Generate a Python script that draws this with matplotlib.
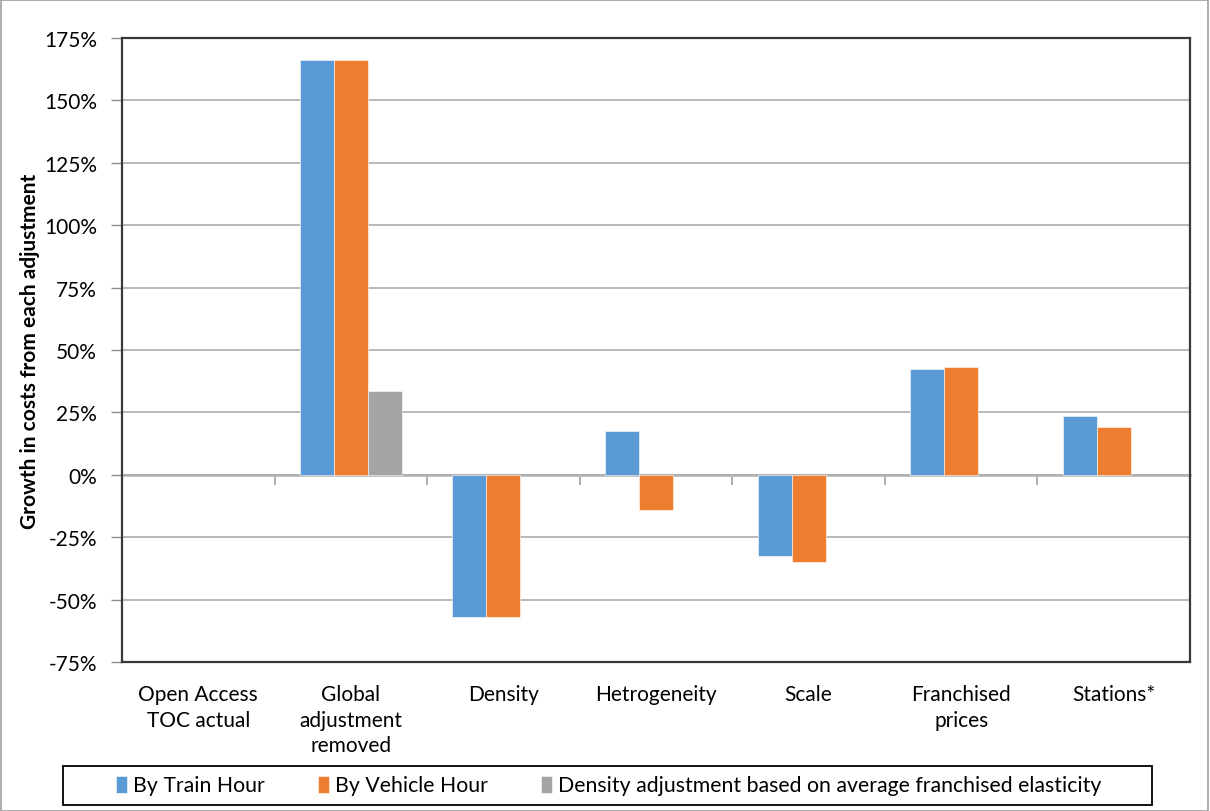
import numpy as np
import matplotlib
matplotlib.use("Agg")
import matplotlib.pyplot as plt
from matplotlib.patches import Rectangle
from matplotlib.ticker import FuncFormatter

plt.rcParams['font.family'] = ['Lato', 'DejaVu Sans']

categories = ["Open Access\nTOC actual", "Global\nadjustment\nremoved", "Density",
              "Hetrogeneity", "Scale", "Franchised\nprices", "Stations*"]
by_train_hour = [np.nan, 166.0, -57.0, 17.5, -32.5, 42.5, 23.5]
by_vehicle_hour = [np.nan, 166.0, -57.0, -14.3, -34.8, 43.2, 19.3]
density_avg_elasticity = [np.nan, 33.7, np.nan, np.nan, np.nan, np.nan, np.nan]
series_names = ["By Train Hour", "By Vehicle Hour",
                "Density adjustment based on average franchised elasticity"]
colors = ["#5B9BD5", "#ED7D31", "#A5A5A5"]
yticks = [-75, -50, -25, 0, 25, 50, 75, 100, 125, 150, 175]

W, H = 1210, 812
fig = plt.figure(figsize=(W / 100, H / 100), dpi=100)
ax = fig.add_axes([122 / W, 1 - 663 / H, (1190 - 122) / W, (663 - 39) / H])

x = np.arange(len(categories))
bw = 0.223
series = [by_train_hour, by_vehicle_hour, density_avg_elasticity]
handles = []
for i, (vals, c, name) in enumerate(zip(series, colors, series_names)):
    b = ax.bar(x + (i - 1) * bw, vals, width=bw, color=c, label=name,
               edgecolor="white", linewidth=0.4, zorder=3)
    handles.append(b)

ax.set_xlim(-0.5, len(categories) - 0.5)
ax.set_ylim(-75, 175)
ax.set_yticks(yticks)
ax.yaxis.set_major_formatter(FuncFormatter(lambda v, p: f"{int(v)}%"))
ax.grid(axis="y", color="#ADADAD", linewidth=1.2, zorder=0)
ax.set_axisbelow(True)
ax.tick_params(axis="y", labelsize=15, length=8, width=1, color="#8C8C8C",
               pad=10, labelcolor="#000000")
ax.set_xticks(x)
ax.set_xticklabels(categories, fontsize=15, linespacing=1.35, va="top")
ax.tick_params(axis="x", length=0, pad=16)

for s in ax.spines.values():
    s.set_color("#3A3A3A")
    s.set_linewidth(1.6)

# category axis at zero
sec = ax.secondary_xaxis((0 - (-75)) / 250)
sec.set_xticks(np.arange(len(categories) + 1) - 0.5)
sec.set_xticklabels([])
sec.tick_params(axis="x", direction="out", length=7, width=1.2, color="#A0A0A0")
sec.spines["bottom"].set_color("#BDBDBD")
sec.spines["bottom"].set_linewidth(2)

ax.set_ylabel("Growth in costs from each adjustment", fontsize=15,
              fontweight="bold")
ax.yaxis.set_label_coords(-0.077, 0.5)

leg = fig.legend(handles=handles, labels=series_names, loc="center",
                 bbox_to_anchor=(609 / W, 1 - 786.5 / H),
                 ncol=3, fontsize=15.3, frameon=False,
                 handlelength=0.5, handleheight=0.85, handletextpad=0.3,
                 columnspacing=2.5)

fig.patches.append(Rectangle((63 / W, 1 - 806 / H), (1152 - 63) / W, 39 / H,
                             transform=fig.transFigure, fill=False,
                             edgecolor="#000000", linewidth=1.3))
fig.patches.append(Rectangle((0.0005, 0.0005), 0.998, 0.998, transform=fig.transFigure,
                             fill=False, edgecolor="#A0A0A0", linewidth=1.2))

fig.savefig("out.png", dpi=100)
